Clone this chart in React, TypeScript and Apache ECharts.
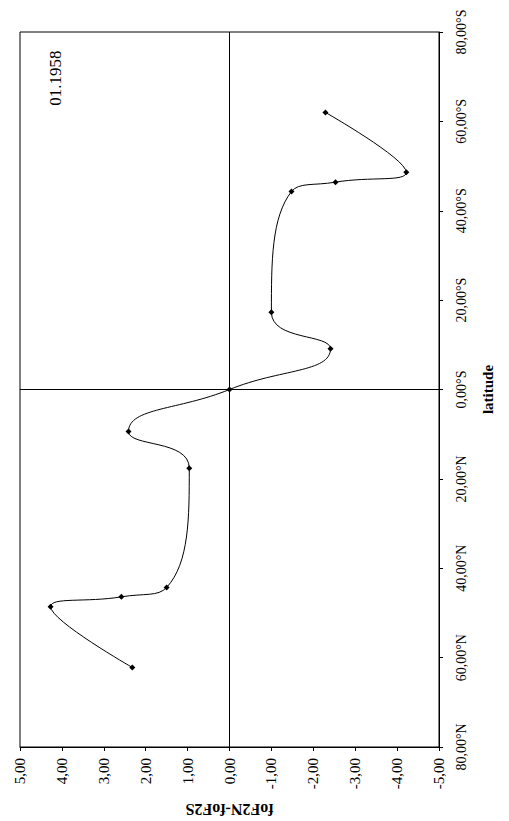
import React, { useEffect, useRef } from "react";
import * as echarts from "echarts";

// Latitude in degrees: positive = south, negative = north
const latitudes = [62.0, 48.6, 46.4, 44.3, 17.3, 9.1, 0, -9.4, -17.6, -44.3, -46.4, -48.6, -62.2];
// foF2N - foF2S difference at each latitude
const differences = [-2.29, -4.22, -2.53, -1.48, -1.0, -2.41, 0, 2.41, 0.96, 1.5, 2.58, 4.27, 2.32];

const periodLabel = "01.1958";
const valueAxisName = "foF2N-foF2S";
const latitudeAxisName = "latitude";

const fmtComma = (v: number) => v.toFixed(2).replace(".", ",");
const fmtLatitude = (v: number) =>
  v < 0 ? `${fmtComma(-v)}°N` : `${fmtComma(v)}°S`;

const FONT = "'Liberation Serif', 'DejaVu Serif', serif";

export default function App() {
  const ref = useRef<HTMLDivElement>(null);

  useEffect(() => {
    document.body.style.margin = "0";
    if (!ref.current) return;
    const chart = echarts.init(ref.current, undefined, { renderer: "svg" });
    const points = latitudes.map((lat, i) => [differences[i], lat]);

    chart.setOption({
      animation: false,
      backgroundColor: "#ffffff",
      textStyle: { fontFamily: FONT, color: "#000" },
      grid: {
        left: 20,
        right: 70,
        top: 32,
        bottom: 74,
        outerBoundsMode: "none",
        containLabel: false,
        show: true,
        borderColor: "#000",
        borderWidth: 1,
        backgroundColor: "transparent",
      },
      xAxis: {
        type: "value",
        min: -5,
        max: 5,
        interval: 1,
        inverse: true,
        name: valueAxisName,
        nameLocation: "middle",
        nameRotate: 180,
        nameGap: 54,
        nameTextStyle: { fontFamily: FONT, fontSize: 16, fontWeight: "bold", color: "#000" },
        axisLine: { show: true, onZero: false, lineStyle: { color: "#000", width: 1 } },
        axisTick: { show: true, inside: false, length: 4, lineStyle: { color: "#000" } },
        axisLabel: {
          rotate: 90,
          margin: 11,
          fontFamily: FONT,
          fontSize: 15,
          color: "#000",
          formatter: (v: number) => fmtComma(v),
        },
        splitLine: { show: false },
      },
      yAxis: {
        type: "value",
        position: "right",
        min: -80,
        max: 80,
        interval: 20,
        name: latitudeAxisName,
        nameLocation: "middle",
        nameRotate: 90,
        nameGap: 41,
        nameTextStyle: { fontFamily: FONT, fontSize: 15, fontWeight: "bold", color: "#000" },
        axisLine: { show: true, onZero: false, lineStyle: { color: "#000", width: 1 } },
        axisTick: { show: true, inside: false, length: 4, lineStyle: { color: "#000" } },
        axisLabel: {
          rotate: 90,
          margin: 15,
          fontFamily: FONT,
          fontSize: 14,
          color: "#000",
          formatter: (v: number) => fmtLatitude(v),
        },
        splitLine: { show: false },
      },
      graphic: [
        {
          type: "text",
          x: 55,
          y: 78,
          rotation: Math.PI / 2,
          style: {
            text: periodLabel,
            fontFamily: FONT,
            fontSize: 17,
            fill: "#000",
            textAlign: "center",
            textVerticalAlign: "middle",
          },
        },
      ],
      series: [
        {
          type: "line",
          data: points,
          smooth: 0.5,
          symbol: "diamond",
          symbolSize: 6,
          itemStyle: { color: "#000" },
          lineStyle: { color: "#000", width: 1 },
          markLine: {
            silent: true,
            symbol: "none",
            label: { show: false },
            lineStyle: { color: "#000", width: 1, type: "solid" },
            data: [{ xAxis: 0 }, { yAxis: 0 }],
          },
        },
      ],
    });

    return () => chart.dispose();
  }, []);

  return <div ref={ref} style={{ width: 509, height: 821 }} />;
}
